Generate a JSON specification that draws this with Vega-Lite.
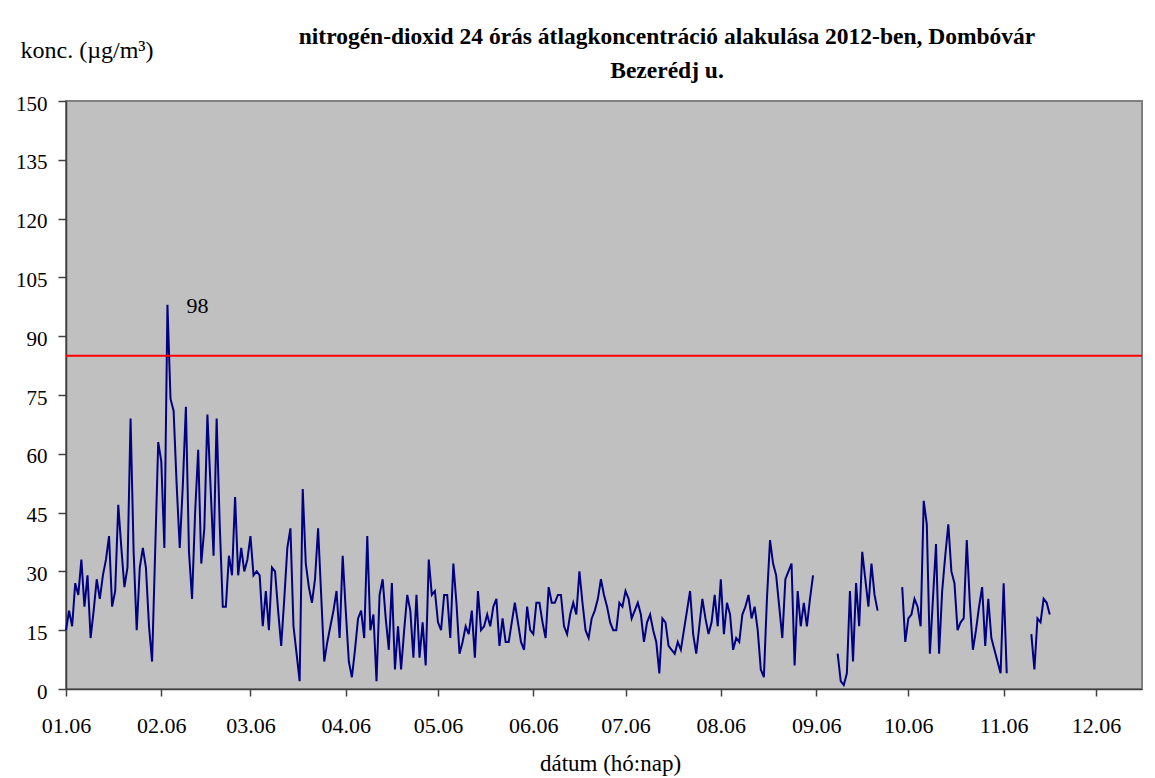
{
  "$schema": "https://vega.github.io/schema/vega-lite/v6.json",
  "width": 1076,
  "height": 588,
  "autosize": {"type": "none"},
  "padding": {"left": 66, "top": 101, "right": 13, "bottom": 89},
  "background": "white",
  "config": {
    "font": "Liberation Serif",
    "view": {"fill": "#c0c0c0", "stroke": "#808080", "strokeWidth": 2},
    "axis": {"grid": false, "domainColor": "#404040", "domainWidth": 1.5, "tickColor": "#404040", "tickWidth": 1.5, "labelColor": "black", "titleColor": "black", "labelFont": "Liberation Serif", "titleFont": "Liberation Serif", "titleFontWeight": "normal"}
  },
  "title": {
    "text": ["nitrogén-dioxid 24 órás átlagkoncentráció alakulása 2012-ben, Dombóvár", "Bezerédj u."],
    "font": "Liberation Serif",
    "fontSize": 23.5,
    "fontWeight": "bold",
    "color": "black",
    "anchor": "middle",
    "frame": "group",
    "dx": 63,
    "offset": -44,
    "lineHeight": 34
  },
  "datasets": {
    "no2": [
      {"t":"2012-01-06","v":15},{"t":"2012-01-07","v":20},{"t":"2012-01-08","v":16},{"t":"2012-01-09","v":27},{"t":"2012-01-10","v":24},
      {"t":"2012-01-11","v":33},{"t":"2012-01-12","v":21},{"t":"2012-01-13","v":29},{"t":"2012-01-14","v":13},{"t":"2012-01-15","v":20},
      {"t":"2012-01-16","v":28},{"t":"2012-01-17","v":23},{"t":"2012-01-18","v":29},{"t":"2012-01-19","v":33},{"t":"2012-01-20","v":39},
      {"t":"2012-01-21","v":21},{"t":"2012-01-22","v":25},{"t":"2012-01-23","v":47},{"t":"2012-01-24","v":36},{"t":"2012-01-25","v":26},
      {"t":"2012-01-26","v":31},{"t":"2012-01-27","v":69},{"t":"2012-01-28","v":35},{"t":"2012-01-29","v":15},{"t":"2012-01-30","v":31},
      {"t":"2012-01-31","v":36},
      {"t":"2012-02-01","v":31},{"t":"2012-02-02","v":16},{"t":"2012-02-03","v":7},{"t":"2012-02-04","v":35},{"t":"2012-02-05","v":63},
      {"t":"2012-02-06","v":58},{"t":"2012-02-07","v":36},{"t":"2012-02-08","v":98},{"t":"2012-02-09","v":74},{"t":"2012-02-10","v":71},
      {"t":"2012-02-11","v":52},{"t":"2012-02-12","v":36},{"t":"2012-02-13","v":52},{"t":"2012-02-14","v":72},{"t":"2012-02-15","v":35},
      {"t":"2012-02-16","v":23},{"t":"2012-02-17","v":45},{"t":"2012-02-18","v":61},{"t":"2012-02-19","v":32},{"t":"2012-02-20","v":41},
      {"t":"2012-02-21","v":70},{"t":"2012-02-22","v":52},{"t":"2012-02-23","v":34},{"t":"2012-02-24","v":69},{"t":"2012-02-25","v":42},
      {"t":"2012-02-26","v":21},{"t":"2012-02-27","v":21},{"t":"2012-02-28","v":34},{"t":"2012-02-29","v":29},
      {"t":"2012-03-01","v":49},{"t":"2012-03-02","v":29},{"t":"2012-03-03","v":36},{"t":"2012-03-04","v":30},{"t":"2012-03-05","v":33},
      {"t":"2012-03-06","v":39},{"t":"2012-03-07","v":29},{"t":"2012-03-08","v":30},{"t":"2012-03-09","v":29},{"t":"2012-03-10","v":16},
      {"t":"2012-03-11","v":25},{"t":"2012-03-12","v":15},{"t":"2012-03-13","v":31},{"t":"2012-03-14","v":30},{"t":"2012-03-15","v":20},
      {"t":"2012-03-16","v":11},{"t":"2012-03-17","v":23},{"t":"2012-03-18","v":36},{"t":"2012-03-19","v":41},{"t":"2012-03-20","v":16},
      {"t":"2012-03-21","v":9},{"t":"2012-03-22","v":2},{"t":"2012-03-23","v":51},{"t":"2012-03-24","v":32},{"t":"2012-03-25","v":26},
      {"t":"2012-03-26","v":22},{"t":"2012-03-27","v":28},{"t":"2012-03-28","v":41},{"t":"2012-03-29","v":24},{"t":"2012-03-30","v":7},
      {"t":"2012-03-31","v":12},
      {"t":"2012-04-01","v":16},{"t":"2012-04-02","v":20},{"t":"2012-04-03","v":25},{"t":"2012-04-04","v":13},{"t":"2012-04-05","v":34},
      {"t":"2012-04-06","v":20},{"t":"2012-04-07","v":7},{"t":"2012-04-08","v":3},{"t":"2012-04-09","v":10},{"t":"2012-04-10","v":18},
      {"t":"2012-04-11","v":20},{"t":"2012-04-12","v":13},{"t":"2012-04-13","v":39},{"t":"2012-04-14","v":15},{"t":"2012-04-15","v":19},
      {"t":"2012-04-16","v":2},{"t":"2012-04-17","v":24},{"t":"2012-04-18","v":28},{"t":"2012-04-19","v":18},{"t":"2012-04-20","v":10},
      {"t":"2012-04-21","v":27},{"t":"2012-04-22","v":5},{"t":"2012-04-23","v":16},{"t":"2012-04-24","v":5},{"t":"2012-04-25","v":15},
      {"t":"2012-04-26","v":24},{"t":"2012-04-27","v":20},{"t":"2012-04-28","v":8},{"t":"2012-04-29","v":24},{"t":"2012-04-30","v":8},
      {"t":"2012-05-01","v":17},{"t":"2012-05-02","v":6},{"t":"2012-05-03","v":33},{"t":"2012-05-04","v":24},{"t":"2012-05-05","v":25},
      {"t":"2012-05-06","v":17},{"t":"2012-05-07","v":15},{"t":"2012-05-08","v":24},{"t":"2012-05-09","v":24},{"t":"2012-05-10","v":13},
      {"t":"2012-05-11","v":32},{"t":"2012-05-12","v":22},{"t":"2012-05-13","v":9},{"t":"2012-05-14","v":12},{"t":"2012-05-15","v":16},
      {"t":"2012-05-16","v":14},{"t":"2012-05-17","v":20},{"t":"2012-05-18","v":8},{"t":"2012-05-19","v":25},{"t":"2012-05-20","v":15},
      {"t":"2012-05-21","v":16},{"t":"2012-05-22","v":19},{"t":"2012-05-23","v":16},{"t":"2012-05-24","v":21},{"t":"2012-05-25","v":23},
      {"t":"2012-05-26","v":11},{"t":"2012-05-27","v":18},{"t":"2012-05-28","v":12},{"t":"2012-05-29","v":12},{"t":"2012-05-30","v":17},
      {"t":"2012-05-31","v":22},
      {"t":"2012-06-01","v":17},{"t":"2012-06-02","v":12},{"t":"2012-06-03","v":10},{"t":"2012-06-04","v":21},{"t":"2012-06-05","v":15},
      {"t":"2012-06-06","v":14},{"t":"2012-06-07","v":22},{"t":"2012-06-08","v":22},{"t":"2012-06-09","v":17},{"t":"2012-06-10","v":13},
      {"t":"2012-06-11","v":26},{"t":"2012-06-12","v":22},{"t":"2012-06-13","v":22},{"t":"2012-06-14","v":24},{"t":"2012-06-15","v":24},
      {"t":"2012-06-16","v":16},{"t":"2012-06-17","v":14},{"t":"2012-06-18","v":19},{"t":"2012-06-19","v":22},{"t":"2012-06-20","v":19},
      {"t":"2012-06-21","v":30},{"t":"2012-06-22","v":22},{"t":"2012-06-23","v":15},{"t":"2012-06-24","v":13},{"t":"2012-06-25","v":18},
      {"t":"2012-06-26","v":20},{"t":"2012-06-27","v":23},{"t":"2012-06-28","v":28},{"t":"2012-06-29","v":24},{"t":"2012-06-30","v":21},
      {"t":"2012-07-01","v":17},{"t":"2012-07-02","v":15},{"t":"2012-07-03","v":15},{"t":"2012-07-04","v":22},{"t":"2012-07-05","v":21},
      {"t":"2012-07-06","v":25},{"t":"2012-07-07","v":23},{"t":"2012-07-08","v":18},{"t":"2012-07-09","v":20},{"t":"2012-07-10","v":22},
      {"t":"2012-07-11","v":19},{"t":"2012-07-12","v":12},{"t":"2012-07-13","v":17},{"t":"2012-07-14","v":19},{"t":"2012-07-15","v":15},
      {"t":"2012-07-16","v":12},{"t":"2012-07-17","v":4},{"t":"2012-07-18","v":18},{"t":"2012-07-19","v":17},{"t":"2012-07-20","v":11},
      {"t":"2012-07-21","v":10},{"t":"2012-07-22","v":9},{"t":"2012-07-23","v":12},{"t":"2012-07-24","v":10},{"t":"2012-07-25","v":15},
      {"t":"2012-07-26","v":20},{"t":"2012-07-27","v":25},{"t":"2012-07-28","v":14},{"t":"2012-07-29","v":9},{"t":"2012-07-30","v":16},
      {"t":"2012-07-31","v":23},
      {"t":"2012-08-01","v":18},{"t":"2012-08-02","v":14},{"t":"2012-08-03","v":17},{"t":"2012-08-04","v":24},{"t":"2012-08-05","v":16},
      {"t":"2012-08-06","v":28},{"t":"2012-08-07","v":14},{"t":"2012-08-08","v":22},{"t":"2012-08-09","v":19},{"t":"2012-08-10","v":10},
      {"t":"2012-08-11","v":13},{"t":"2012-08-12","v":12},{"t":"2012-08-13","v":19},{"t":"2012-08-14","v":21},{"t":"2012-08-15","v":24},
      {"t":"2012-08-16","v":18},{"t":"2012-08-17","v":21},{"t":"2012-08-18","v":15},{"t":"2012-08-19","v":5},{"t":"2012-08-20","v":3},
      {"t":"2012-08-21","v":23},{"t":"2012-08-22","v":38},{"t":"2012-08-23","v":32},{"t":"2012-08-24","v":29},{"t":"2012-08-25","v":21},
      {"t":"2012-08-26","v":13},{"t":"2012-08-27","v":28},{"t":"2012-08-28","v":30},{"t":"2012-08-29","v":32},{"t":"2012-08-30","v":6},
      {"t":"2012-08-31","v":25},
      {"t":"2012-09-01","v":16},{"t":"2012-09-02","v":22},{"t":"2012-09-03","v":16},{"t":"2012-09-04","v":23},{"t":"2012-09-05","v":29},
      {"t":"2012-09-09","v":null},
      {"t":"2012-09-13","v":9},{"t":"2012-09-14","v":2},{"t":"2012-09-15","v":1},{"t":"2012-09-16","v":4},{"t":"2012-09-17","v":25},
      {"t":"2012-09-18","v":7},{"t":"2012-09-19","v":27},{"t":"2012-09-20","v":16},{"t":"2012-09-21","v":35},{"t":"2012-09-22","v":28},
      {"t":"2012-09-23","v":21},{"t":"2012-09-24","v":32},{"t":"2012-09-25","v":24},{"t":"2012-09-26","v":20},
      {"t":"2012-09-30","v":null},
      {"t":"2012-10-04","v":26},{"t":"2012-10-05","v":12},{"t":"2012-10-06","v":18},{"t":"2012-10-07","v":19},{"t":"2012-10-08","v":23},
      {"t":"2012-10-09","v":21},{"t":"2012-10-10","v":16},{"t":"2012-10-11","v":48},{"t":"2012-10-12","v":42},{"t":"2012-10-13","v":9},
      {"t":"2012-10-14","v":23},{"t":"2012-10-15","v":37},{"t":"2012-10-16","v":9},{"t":"2012-10-17","v":25},{"t":"2012-10-18","v":34},
      {"t":"2012-10-19","v":42},{"t":"2012-10-20","v":30},{"t":"2012-10-21","v":27},{"t":"2012-10-22","v":15},{"t":"2012-10-23","v":17},
      {"t":"2012-10-24","v":18},{"t":"2012-10-25","v":38},{"t":"2012-10-26","v":22},{"t":"2012-10-27","v":10},{"t":"2012-10-28","v":15},
      {"t":"2012-10-29","v":21},{"t":"2012-10-30","v":26},{"t":"2012-10-31","v":11},
      {"t":"2012-11-01","v":23},{"t":"2012-11-02","v":13},{"t":"2012-11-03","v":10},{"t":"2012-11-04","v":7},{"t":"2012-11-05","v":4},
      {"t":"2012-11-06","v":27},{"t":"2012-11-07","v":4},
      {"t":"2012-11-11","v":null},
      {"t":"2012-11-15","v":14},{"t":"2012-11-16","v":5},{"t":"2012-11-17","v":18},{"t":"2012-11-18","v":17},{"t":"2012-11-19","v":23},
      {"t":"2012-11-20","v":22},{"t":"2012-11-21","v":19}
    ],
    "limit": [{"v": 85}],
    "peak": [{"t": "2012-02-08", "v": 98, "label": "98"}]
  },
  "layer": [
    {
      "data": {"name": "no2"},
      "mark": {"type": "line", "color": "#000080", "strokeWidth": 2, "invalid": "break-paths-show-domains"},
      "encoding": {
        "x": {
          "field": "t", "type": "temporal",
          "scale": {"type": "utc", "domain": [{"year": 2012, "month": 1, "date": 6, "utc": true}, {"year": 2012, "month": 12, "date": 21, "utc": true}]},
          "axis": {
            "values": [
              {"year": 2012, "month": 1, "date": 6, "utc": true}, {"year": 2012, "month": 2, "date": 6, "utc": true},
              {"year": 2012, "month": 3, "date": 6, "utc": true}, {"year": 2012, "month": 4, "date": 6, "utc": true},
              {"year": 2012, "month": 5, "date": 6, "utc": true}, {"year": 2012, "month": 6, "date": 6, "utc": true},
              {"year": 2012, "month": 7, "date": 6, "utc": true}, {"year": 2012, "month": 8, "date": 6, "utc": true},
              {"year": 2012, "month": 9, "date": 6, "utc": true}, {"year": 2012, "month": 10, "date": 6, "utc": true},
              {"year": 2012, "month": 11, "date": 6, "utc": true}, {"year": 2012, "month": 12, "date": 6, "utc": true}
            ],
            "labelExpr": "utcFormat(datum.value, '%m.%d')",
            "labelFont": "Liberation Serif", "titleFont": "Liberation Serif",
            "tickSize": 7, "labelPadding": 19, "labelFontSize": 22, "labelFlush": false, "labelOverlap": false,
            "title": "dátum (hó:nap)", "titleFontSize": 23, "titleFontWeight": "normal", "titleBaseline": "alphabetic", "titleY": 81, "titleX": 544, "titleAlign": "center"
          }
        },
        "y": {
          "field": "v", "type": "quantitative",
          "scale": {"domain": [0, 150], "nice": false, "zero": true},
          "axis": {
            "values": [0, 15, 30, 45, 60, 75, 90, 105, 120, 135, 150],
            "labelFont": "Liberation Serif", "titleFont": "Liberation Serif",
            "tickSize": 8, "labelPadding": 11, "labelFontSize": 21, "labelOffset": 3, "labelFlush": false,
            "title": "konc. (µg/m³)", "titleFontSize": 24, "titleFontWeight": "normal", "titleAngle": 0, "titleAlign": "left", "titleBaseline": "alphabetic", "titleX": -46, "titleY": -44
          }
        }
      }
    },
    {
      "data": {"name": "limit"},
      "mark": {"type": "rule", "color": "#ff0000", "strokeWidth": 2},
      "encoding": {"y": {"field": "v", "type": "quantitative"}}
    },
    {
      "data": {"name": "peak"},
      "mark": {"type": "text", "dx": 30, "dy": 1, "fontSize": 22, "font": "Liberation Serif", "color": "black", "baseline": "middle"},
      "encoding": {
        "x": {"field": "t", "type": "temporal"},
        "y": {"field": "v", "type": "quantitative"},
        "text": {"field": "label"}
      }
    }
  ]
}
